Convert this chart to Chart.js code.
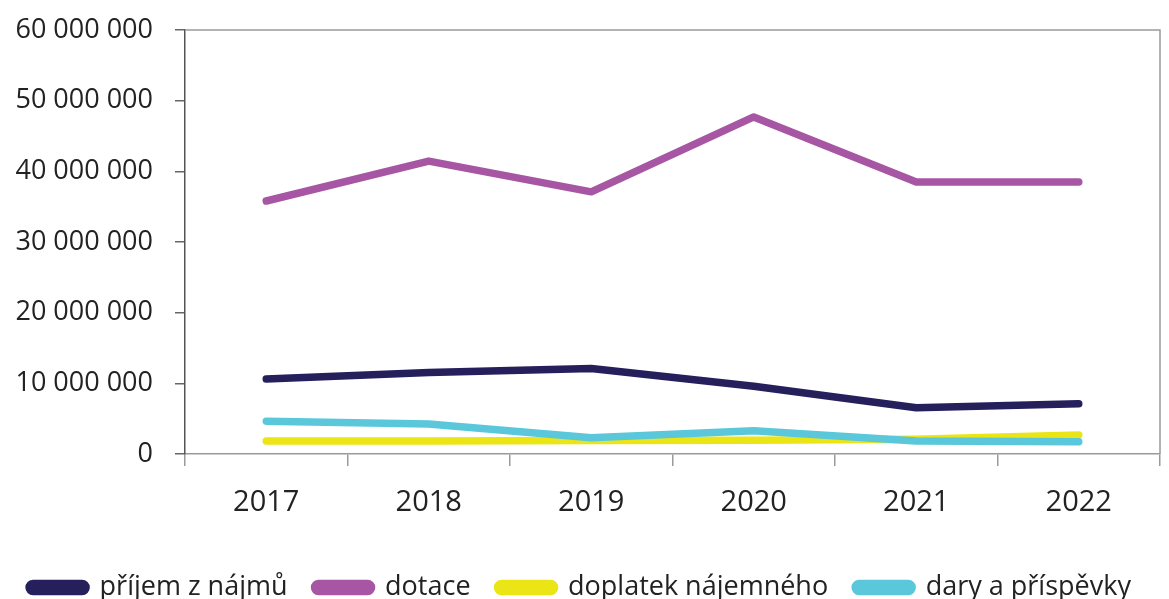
<!DOCTYPE html>
<html lang="cs">
<head>
<meta charset="utf-8">
<title>Příjmy 2017–2022</title>
<script src="https://cdn.jsdelivr.net/npm/chart.js@4/dist/chart.umd.min.js"></script>
<style>
  html, body { margin: 0; padding: 0; background: #fff; }
  #wrap { width: 1169px; height: 599px; position: relative; }
</style>
</head>
<body>
<div id="wrap"><canvas id="incomeChart"></canvas></div>
<script>
const years = ['2017', '2018', '2019', '2020', '2021', '2022'];
const rentIncome = [10600000, 11550000, 12100000, 9600000, 6550000, 7100000];
const subsidies = [35800000, 41450000, 37100000, 47700000, 38500000, 38500000];
const rentTopUp = [1850000, 1850000, 1900000, 1950000, 2100000, 2700000];
const donations = [4650000, 4250000, 2300000, 3300000, 1850000, 1750000];
const yTicks = [0, 10000000, 20000000, 30000000, 40000000, 50000000, 60000000];

const FONT = '"Open Sans", "DejaVu Sans", sans-serif';

function fmt(v) {
  return String(v).replace(/\B(?=(\d{3})+(?!\d))/g, ' ');
}

// thin grey frame on top / right of the plot area
const frame = {
  id: 'frame',
  afterDraw(chart) {
    const { ctx, chartArea: a } = chart;
    ctx.save();
    ctx.strokeStyle = '#9a9a9a';
    ctx.lineWidth = 1.5;
    ctx.beginPath();
    ctx.moveTo(a.left, a.top);
    ctx.lineTo(a.right, a.top);
    ctx.lineTo(a.right, a.bottom);
    ctx.stroke();
    ctx.restore();
  }
};

function series(label, data, color, order) {
  return {
    label,
    data,
    borderColor: color,
    backgroundColor: color,
    borderWidth: 7.5,
    borderCapStyle: 'round',
    borderJoinStyle: 'round',
    pointRadius: 0,
    tension: 0,
    order
  };
}

new Chart(document.getElementById('incomeChart'), {
  type: 'line',
  data: {
    labels: years,
    datasets: [
      series('příjem z nájmů', rentIncome, '#251f5b', 3),
      series('dotace', subsidies, '#a756a4', 2),
      series('doplatek nájemného', rentTopUp, '#ebe515', 1),
      series('dary a příspěvky', donations, '#5ac8da', 0)
    ]
  },
  options: {
    responsive: true,
    maintainAspectRatio: false,
    animation: false,
    layout: { padding: { top: 30, right: 9, left: 0, bottom: -12 } },
    plugins: {
      tooltip: { enabled: false },
      legend: {
        position: 'bottom',
        labels: {
          sort: (a, b) => a.datasetIndex - b.datasetIndex,
          boxWidth: 57,
          boxHeight: 8,
          useBorderRadius: true,
          borderRadius: 4,
          padding: 27,
          color: '#222',
          font: { family: FONT, size: 27 }
        }
      }
    },
    scales: {
      x: {
        offset: true,
        afterFit(axis) { axis.height = 93; },
        grid: {
          display: true,
          offset: true,
          drawOnChartArea: false,
          tickLength: 12,
          color: '#9a9a9a',
          lineWidth: 1.5
        },
        border: { color: '#9a9a9a', width: 1.5 },
        ticks: {
          color: '#222',
          padding: 19,
          font: { family: FONT, size: 29 }
        }
      },
      y: {
        min: 0,
        max: 60000000,
        afterFit(axis) {
          axis.width = 185;
          axis.paddingTop = 0;
          axis.paddingBottom = 0;
        },
        afterBuildTicks(axis) {
          axis.ticks = yTicks.map(v => ({ value: v }));
        },
        grid: {
          display: true,
          drawOnChartArea: false,
          tickLength: 10,
          color: '#666',
          lineWidth: 1.5
        },
        border: { color: '#555', width: 1.5 },
        ticks: {
          color: '#222',
          padding: 22,
          font: { family: FONT, size: 27 },
          callback: v => fmt(v)
        }
      }
    }
  },
  plugins: [frame]
});
</script>
</body>
</html>
